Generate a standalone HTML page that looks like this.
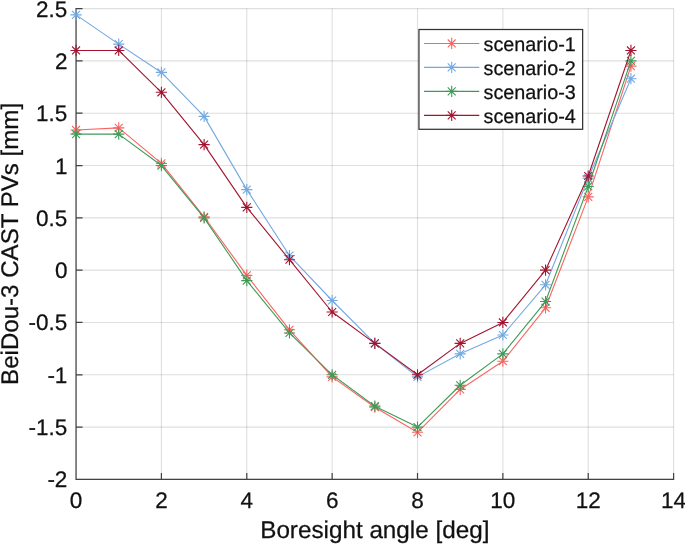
<!DOCTYPE html>
<html lang="en"><head><meta charset="utf-8"><title>BeiDou-3 CAST PVs</title>
<style>html,body{margin:0;padding:0;background:#fff;}body{width:685px;height:544px;overflow:hidden;}svg{display:block;will-change:transform;}text{font-family:"Liberation Sans",Arial,Helvetica,sans-serif;fill:#111;stroke:#111;stroke-width:0.25px;text-rendering:geometricPrecision;}</style></head><body>
<svg width="685" height="544" viewBox="0 0 685 544">
<rect width="685" height="544" fill="#fff"/>
<g stroke="#262626" stroke-opacity="0.15" stroke-width="1.1" fill="none">
<path d="M76.05 8.6V479.4"/>
<path d="M161.41 8.6V479.4"/>
<path d="M246.78 8.6V479.4"/>
<path d="M332.14 8.6V479.4"/>
<path d="M417.51 8.6V479.4"/>
<path d="M502.87 8.6V479.4"/>
<path d="M588.24 8.6V479.4"/>
<path d="M673.60 8.6V479.4"/>
<path d="M76.05 8.60H673.6"/>
<path d="M76.05 60.91H673.6"/>
<path d="M76.05 113.22H673.6"/>
<path d="M76.05 165.53H673.6"/>
<path d="M76.05 217.84H673.6"/>
<path d="M76.05 270.16H673.6"/>
<path d="M76.05 322.47H673.6"/>
<path d="M76.05 374.78H673.6"/>
<path d="M76.05 427.09H673.6"/>
<path d="M76.05 479.40H673.6"/>
</g>
<path d="M76.05 7.949999999999999V479.4H674.25M161.41 479.4v-6.5M246.78 479.4v-6.5M332.14 479.4v-6.5M417.51 479.4v-6.5M502.87 479.4v-6.5M588.24 479.4v-6.5M673.60 479.4v-6.5M76.05 8.60h6.5M76.05 60.91h6.5M76.05 113.22h6.5M76.05 165.53h6.5M76.05 217.84h6.5M76.05 270.16h6.5M76.05 322.47h6.5M76.05 374.78h6.5M76.05 427.09h6.5" stroke="#424242" stroke-width="1.2" fill="none" stroke-linejoin="miter"/>
<polyline points="76.05,129.96 118.73,127.87 161.41,163.44 204.10,216.80 246.78,275.39 289.46,329.79 332.14,376.87 374.83,407.21 417.51,432.32 460.19,389.42 502.87,361.18 545.55,307.82 588.24,196.92 630.92,66.14" fill="none" stroke="#fa6462" stroke-width="1.1" stroke-linejoin="round"/>
<path d="M70.45 129.96H81.65M76.05 124.36V135.56M72.09 126.00L80.01 133.92M72.09 133.92L80.01 126.00" stroke="#fa6462" stroke-width="1.1" fill="none"/>
<path d="M113.13 127.87H124.33M118.73 122.27V133.47M114.77 123.91L122.69 131.83M114.77 131.83L122.69 123.91" stroke="#fa6462" stroke-width="1.1" fill="none"/>
<path d="M155.81 163.44H167.01M161.41 157.84V169.04M157.45 159.48L165.37 167.40M157.45 167.40L165.37 159.48" stroke="#fa6462" stroke-width="1.1" fill="none"/>
<path d="M198.50 216.80H209.70M204.10 211.20V222.40M200.14 212.84L208.06 220.76M200.14 220.76L208.06 212.84" stroke="#fa6462" stroke-width="1.1" fill="none"/>
<path d="M241.18 275.39H252.38M246.78 269.79V280.99M242.82 271.43L250.74 279.35M242.82 279.35L250.74 271.43" stroke="#fa6462" stroke-width="1.1" fill="none"/>
<path d="M283.86 329.79H295.06M289.46 324.19V335.39M285.50 325.83L293.42 333.75M285.50 333.75L293.42 325.83" stroke="#fa6462" stroke-width="1.1" fill="none"/>
<path d="M326.54 376.87H337.74M332.14 371.27V382.47M328.18 372.91L336.10 380.83M328.18 380.83L336.10 372.91" stroke="#fa6462" stroke-width="1.1" fill="none"/>
<path d="M369.23 407.21H380.43M374.83 401.61V412.81M370.87 403.25L378.78 411.17M370.87 411.17L378.78 403.25" stroke="#fa6462" stroke-width="1.1" fill="none"/>
<path d="M411.91 432.32H423.11M417.51 426.72V437.92M413.55 428.36L421.47 436.28M413.55 436.28L421.47 428.36" stroke="#fa6462" stroke-width="1.1" fill="none"/>
<path d="M454.59 389.42H465.79M460.19 383.82V395.02M456.23 385.47L464.15 393.38M456.23 393.38L464.15 385.47" stroke="#fa6462" stroke-width="1.1" fill="none"/>
<path d="M497.27 361.18H508.47M502.87 355.58V366.78M498.91 357.22L506.83 365.14M498.91 365.14L506.83 357.22" stroke="#fa6462" stroke-width="1.1" fill="none"/>
<path d="M539.95 307.82H551.15M545.55 302.22V313.42M541.59 303.86L549.51 311.78M541.59 311.78L549.51 303.86" stroke="#fa6462" stroke-width="1.1" fill="none"/>
<path d="M582.64 196.92H593.84M588.24 191.32V202.52M584.28 192.96L592.20 200.88M584.28 200.88L592.20 192.96" stroke="#fa6462" stroke-width="1.1" fill="none"/>
<path d="M625.32 66.14H636.52M630.92 60.54V71.74M626.96 62.18L634.88 70.10M626.96 70.10L634.88 62.18" stroke="#fa6462" stroke-width="1.1" fill="none"/>
<polyline points="76.05,14.88 118.73,44.17 161.41,72.42 204.10,116.36 246.78,189.60 289.46,255.51 332.14,300.50 374.83,343.39 417.51,376.87 460.19,353.85 502.87,335.02 545.55,284.80 588.24,178.09 630.92,78.70" fill="none" stroke="#72a9e1" stroke-width="1.1" stroke-linejoin="round"/>
<path d="M70.45 14.88H81.65M76.05 9.28V20.48M72.09 10.92L80.01 18.84M72.09 18.84L80.01 10.92" stroke="#72a9e1" stroke-width="1.1" fill="none"/>
<path d="M113.13 44.17H124.33M118.73 38.57V49.77M114.77 40.21L122.69 48.13M114.77 48.13L122.69 40.21" stroke="#72a9e1" stroke-width="1.1" fill="none"/>
<path d="M155.81 72.42H167.01M161.41 66.82V78.02M157.45 68.46L165.37 76.38M157.45 76.38L165.37 68.46" stroke="#72a9e1" stroke-width="1.1" fill="none"/>
<path d="M198.50 116.36H209.70M204.10 110.76V121.96M200.14 112.40L208.06 120.32M200.14 120.32L208.06 112.40" stroke="#72a9e1" stroke-width="1.1" fill="none"/>
<path d="M241.18 189.60H252.38M246.78 184.00V195.20M242.82 185.64L250.74 193.56M242.82 193.56L250.74 185.64" stroke="#72a9e1" stroke-width="1.1" fill="none"/>
<path d="M283.86 255.51H295.06M289.46 249.91V261.11M285.50 251.55L293.42 259.47M285.50 259.47L293.42 251.55" stroke="#72a9e1" stroke-width="1.1" fill="none"/>
<path d="M326.54 300.50H337.74M332.14 294.90V306.10M328.18 296.54L336.10 304.46M328.18 304.46L336.10 296.54" stroke="#72a9e1" stroke-width="1.1" fill="none"/>
<path d="M369.23 343.39H380.43M374.83 337.79V348.99M370.87 339.43L378.78 347.35M370.87 347.35L378.78 339.43" stroke="#72a9e1" stroke-width="1.1" fill="none"/>
<path d="M411.91 376.87H423.11M417.51 371.27V382.47M413.55 372.91L421.47 380.83M413.55 380.83L421.47 372.91" stroke="#72a9e1" stroke-width="1.1" fill="none"/>
<path d="M454.59 353.85H465.79M460.19 348.25V359.45M456.23 349.89L464.15 357.81M456.23 357.81L464.15 349.89" stroke="#72a9e1" stroke-width="1.1" fill="none"/>
<path d="M497.27 335.02H508.47M502.87 329.42V340.62M498.91 331.06L506.83 338.98M498.91 338.98L506.83 331.06" stroke="#72a9e1" stroke-width="1.1" fill="none"/>
<path d="M539.95 284.80H551.15M545.55 279.20V290.40M541.59 280.84L549.51 288.76M541.59 288.76L549.51 280.84" stroke="#72a9e1" stroke-width="1.1" fill="none"/>
<path d="M582.64 178.09H593.84M588.24 172.49V183.69M584.28 174.13L592.20 182.05M584.28 182.05L592.20 174.13" stroke="#72a9e1" stroke-width="1.1" fill="none"/>
<path d="M625.32 78.70H636.52M630.92 73.10V84.30M626.96 74.74L634.88 82.66M626.96 82.66L634.88 74.74" stroke="#72a9e1" stroke-width="1.1" fill="none"/>
<polyline points="76.05,134.15 118.73,134.15 161.41,165.53 204.10,217.84 246.78,280.62 289.46,332.93 332.14,374.78 374.83,406.16 417.51,427.09 460.19,385.24 502.87,353.85 545.55,301.54 588.24,186.46 630.92,60.91" fill="none" stroke="#3f9a58" stroke-width="1.1" stroke-linejoin="round"/>
<path d="M70.45 134.15H81.65M76.05 128.55V139.75M72.09 130.19L80.01 138.11M72.09 138.11L80.01 130.19" stroke="#3f9a58" stroke-width="1.1" fill="none"/>
<path d="M113.13 134.15H124.33M118.73 128.55V139.75M114.77 130.19L122.69 138.11M114.77 138.11L122.69 130.19" stroke="#3f9a58" stroke-width="1.1" fill="none"/>
<path d="M155.81 165.53H167.01M161.41 159.93V171.13M157.45 161.57L165.37 169.49M157.45 169.49L165.37 161.57" stroke="#3f9a58" stroke-width="1.1" fill="none"/>
<path d="M198.50 217.84H209.70M204.10 212.24V223.44M200.14 213.88L208.06 221.80M200.14 221.80L208.06 213.88" stroke="#3f9a58" stroke-width="1.1" fill="none"/>
<path d="M241.18 280.62H252.38M246.78 275.02V286.22M242.82 276.66L250.74 284.58M242.82 284.58L250.74 276.66" stroke="#3f9a58" stroke-width="1.1" fill="none"/>
<path d="M283.86 332.93H295.06M289.46 327.33V338.53M285.50 328.97L293.42 336.89M285.50 336.89L293.42 328.97" stroke="#3f9a58" stroke-width="1.1" fill="none"/>
<path d="M326.54 374.78H337.74M332.14 369.18V380.38M328.18 370.82L336.10 378.74M328.18 378.74L336.10 370.82" stroke="#3f9a58" stroke-width="1.1" fill="none"/>
<path d="M369.23 406.16H380.43M374.83 400.56V411.76M370.87 402.20L378.78 410.12M370.87 410.12L378.78 402.20" stroke="#3f9a58" stroke-width="1.1" fill="none"/>
<path d="M411.91 427.09H423.11M417.51 421.49V432.69M413.55 423.13L421.47 431.05M413.55 431.05L421.47 423.13" stroke="#3f9a58" stroke-width="1.1" fill="none"/>
<path d="M454.59 385.24H465.79M460.19 379.64V390.84M456.23 381.28L464.15 389.20M456.23 389.20L464.15 381.28" stroke="#3f9a58" stroke-width="1.1" fill="none"/>
<path d="M497.27 353.85H508.47M502.87 348.25V359.45M498.91 349.89L506.83 357.81M498.91 357.81L506.83 349.89" stroke="#3f9a58" stroke-width="1.1" fill="none"/>
<path d="M539.95 301.54H551.15M545.55 295.94V307.14M541.59 297.58L549.51 305.50M541.59 305.50L549.51 297.58" stroke="#3f9a58" stroke-width="1.1" fill="none"/>
<path d="M582.64 186.46H593.84M588.24 180.86V192.06M584.28 182.50L592.20 190.42M584.28 190.42L592.20 182.50" stroke="#3f9a58" stroke-width="1.1" fill="none"/>
<path d="M625.32 60.91H636.52M630.92 55.31V66.51M626.96 56.95L634.88 64.87M626.96 64.87L634.88 56.95" stroke="#3f9a58" stroke-width="1.1" fill="none"/>
<polyline points="76.05,50.45 118.73,50.45 161.41,92.30 204.10,144.61 246.78,207.38 289.46,259.69 332.14,312.00 374.83,343.39 417.51,374.78 460.19,343.39 502.87,322.47 545.55,270.16 588.24,176.00 630.92,50.45" fill="none" stroke="#a2142f" stroke-width="1.1" stroke-linejoin="round"/>
<path d="M70.45 50.45H81.65M76.05 44.85V56.05M72.09 46.49L80.01 54.41M72.09 54.41L80.01 46.49" stroke="#a2142f" stroke-width="1.1" fill="none"/>
<path d="M113.13 50.45H124.33M118.73 44.85V56.05M114.77 46.49L122.69 54.41M114.77 54.41L122.69 46.49" stroke="#a2142f" stroke-width="1.1" fill="none"/>
<path d="M155.81 92.30H167.01M161.41 86.70V97.90M157.45 88.34L165.37 96.26M157.45 96.26L165.37 88.34" stroke="#a2142f" stroke-width="1.1" fill="none"/>
<path d="M198.50 144.61H209.70M204.10 139.01V150.21M200.14 140.65L208.06 148.57M200.14 148.57L208.06 140.65" stroke="#a2142f" stroke-width="1.1" fill="none"/>
<path d="M241.18 207.38H252.38M246.78 201.78V212.98M242.82 203.42L250.74 211.34M242.82 211.34L250.74 203.42" stroke="#a2142f" stroke-width="1.1" fill="none"/>
<path d="M283.86 259.69H295.06M289.46 254.09V265.29M285.50 255.73L293.42 263.65M285.50 263.65L293.42 255.73" stroke="#a2142f" stroke-width="1.1" fill="none"/>
<path d="M326.54 312.00H337.74M332.14 306.40V317.60M328.18 308.04L336.10 315.96M328.18 315.96L336.10 308.04" stroke="#a2142f" stroke-width="1.1" fill="none"/>
<path d="M369.23 343.39H380.43M374.83 337.79V348.99M370.87 339.43L378.78 347.35M370.87 347.35L378.78 339.43" stroke="#a2142f" stroke-width="1.1" fill="none"/>
<path d="M411.91 374.78H423.11M417.51 369.18V380.38M413.55 370.82L421.47 378.74M413.55 378.74L421.47 370.82" stroke="#a2142f" stroke-width="1.1" fill="none"/>
<path d="M454.59 343.39H465.79M460.19 337.79V348.99M456.23 339.43L464.15 347.35M456.23 347.35L464.15 339.43" stroke="#a2142f" stroke-width="1.1" fill="none"/>
<path d="M497.27 322.47H508.47M502.87 316.87V328.07M498.91 318.51L506.83 326.43M498.91 326.43L506.83 318.51" stroke="#a2142f" stroke-width="1.1" fill="none"/>
<path d="M539.95 270.16H551.15M545.55 264.56V275.76M541.59 266.20L549.51 274.12M541.59 274.12L549.51 266.20" stroke="#a2142f" stroke-width="1.1" fill="none"/>
<path d="M582.64 176.00H593.84M588.24 170.40V181.60M584.28 172.04L592.20 179.96M584.28 179.96L592.20 172.04" stroke="#a2142f" stroke-width="1.1" fill="none"/>
<path d="M625.32 50.45H636.52M630.92 44.85V56.05M626.96 46.49L634.88 54.41M626.96 54.41L634.88 46.49" stroke="#a2142f" stroke-width="1.1" fill="none"/>
<text x="76.05" y="507.6" font-size="22.5" text-anchor="middle">0</text>
<text x="161.41" y="507.6" font-size="22.5" text-anchor="middle">2</text>
<text x="246.78" y="507.6" font-size="22.5" text-anchor="middle">4</text>
<text x="332.14" y="507.6" font-size="22.5" text-anchor="middle">6</text>
<text x="417.51" y="507.6" font-size="22.5" text-anchor="middle">8</text>
<text x="502.87" y="507.6" font-size="22.5" text-anchor="middle">10</text>
<text x="588.24" y="507.6" font-size="22.5" text-anchor="middle">12</text>
<text x="673.60" y="507.6" font-size="22.5" text-anchor="middle">14</text>
<text x="67.4" y="16.60" font-size="22.5" text-anchor="end">2.5</text>
<text x="67.4" y="68.91" font-size="22.5" text-anchor="end">2</text>
<text x="67.4" y="121.22" font-size="22.5" text-anchor="end">1.5</text>
<text x="67.4" y="173.53" font-size="22.5" text-anchor="end">1</text>
<text x="67.4" y="225.84" font-size="22.5" text-anchor="end">0.5</text>
<text x="67.4" y="278.16" font-size="22.5" text-anchor="end">0</text>
<text x="67.4" y="330.47" font-size="22.5" text-anchor="end">-0.5</text>
<text x="67.4" y="382.78" font-size="22.5" text-anchor="end">-1</text>
<text x="67.4" y="435.09" font-size="22.5" text-anchor="end">-1.5</text>
<text x="67.4" y="487.40" font-size="22.5" text-anchor="end">-2</text>
<text x="374.82" y="538.1" font-size="24.25" text-anchor="middle">Boresight angle [deg]</text>
<text transform="translate(18.4 243.9) rotate(-90)" font-size="24.1" text-anchor="middle">BeiDou-3 CAST PVs [mm]</text>
<rect x="418.95" y="29.5" width="163.70" height="99.80" fill="#fff" stroke="#333" stroke-width="1.25"/>
<path d="M424 43.45H479.3" stroke="#fa6462" stroke-width="1.1" fill="none"/>
<path d="M446.10 43.45H457.30M451.70 37.85V49.05M447.74 39.49L455.66 47.41M447.74 47.41L455.66 39.49" stroke="#fa6462" stroke-width="1.1" fill="none"/>
<text x="483.5" y="51.30" font-size="19.8">scenario-1</text>
<path d="M424 67.4H479.3" stroke="#72a9e1" stroke-width="1.1" fill="none"/>
<path d="M446.10 67.40H457.30M451.70 61.80V73.00M447.74 63.44L455.66 71.36M447.74 71.36L455.66 63.44" stroke="#72a9e1" stroke-width="1.1" fill="none"/>
<text x="483.5" y="75.20" font-size="19.8">scenario-2</text>
<path d="M424 91.4H479.3" stroke="#3f9a58" stroke-width="1.1" fill="none"/>
<path d="M446.10 91.40H457.30M451.70 85.80V97.00M447.74 87.44L455.66 95.36M447.74 95.36L455.66 87.44" stroke="#3f9a58" stroke-width="1.1" fill="none"/>
<text x="483.5" y="99.10" font-size="19.8">scenario-3</text>
<path d="M424 115.35H479.3" stroke="#a2142f" stroke-width="1.1" fill="none"/>
<path d="M446.10 115.35H457.30M451.70 109.75V120.95M447.74 111.39L455.66 119.31M447.74 119.31L455.66 111.39" stroke="#a2142f" stroke-width="1.1" fill="none"/>
<text x="483.5" y="123.00" font-size="19.8">scenario-4</text>
</svg></body></html>
